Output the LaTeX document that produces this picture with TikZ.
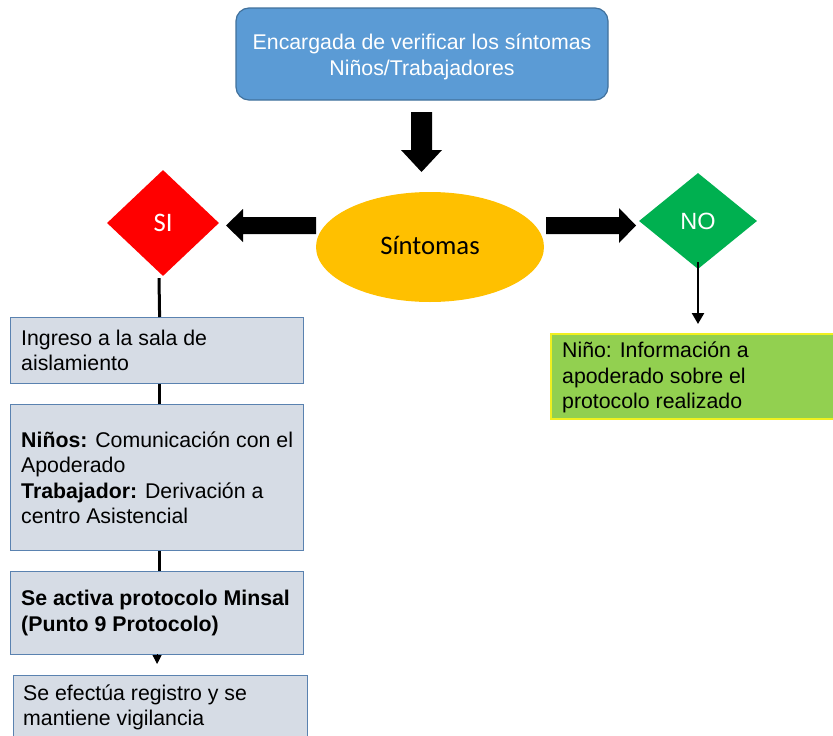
\documentclass[tikz,border=0pt]{standalone}
\usepackage{fontspec}
\setmainfont{Liberation Sans}
\newfontfamily\calibri{Carlito}
\usetikzlibrary{shapes.geometric,arrows.meta}
\definecolor{topblue}{HTML}{5B9BD5}
\definecolor{topborder}{HTML}{41719C}
\definecolor{ovalfill}{HTML}{FFC000}
\definecolor{sired}{HTML}{FF0000}
\definecolor{nogreen}{HTML}{00B050}
\definecolor{infogreen}{HTML}{92D050}
\definecolor{infoborder}{HTML}{F0F020}
\definecolor{grayfill}{HTML}{D6DCE5}
\definecolor{grayborder}{HTML}{5A82B0}
\begin{document}
\begin{tikzpicture}[x=1pt,y=-1pt,
  basefont/.style={font=\fontsize{21.3}{25.5}\selectfont},
  topbox/.style={draw=topborder, line width=1.2pt, fill=topblue, rounded corners=13pt,
    minimum width=372pt, minimum height=92pt},
  oval/.style={ellipse, fill=ovalfill, minimum width=228pt, minimum height=110pt, inner sep=0pt,
    font=\calibri\fontsize{26.7}{30}\selectfont},
  dia/.style={diamond, inner sep=0pt, text=white},
  graybox/.style={draw=grayborder, line width=1.2pt, fill=grayfill, anchor=north west, inner sep=0pt},
  greenbox/.style={draw=infoborder, line width=1.6pt, fill=infogreen, anchor=north west, inner sep=0pt},
  txt/.style={anchor=west, align=left, inner sep=0pt, basefont},
  conn/.style={line width=3pt, black},
  blockarrow/.style={fill=black}
]
\useasboundingbox (0,0) rectangle (833,736);

% nodes
\node[topbox] (top) at (422,54) {};
\node[align=center, text=white, inner sep=0pt, basefont] (topt) at ([yshift=-3pt]top.center)
  {Encargada de verificar los síntomas\\Niños/Trabajadores};
\node[oval] (sint) at (430,247) {\raisebox{3pt}{Síntomas}};
\node[dia, fill=sired, minimum width=112pt, minimum height=106pt,
      font=\calibri\fontsize{26.7}{30}\selectfont] (si) at (163,223) {SI};
\node[dia, fill=nogreen, minimum width=118pt, minimum height=96pt,
      font=\fontsize{23.5}{26}\selectfont] (no) at (698,221) {NO};

\node[greenbox, minimum width=300pt, minimum height=85pt] (info) at (550,333) {};
\node[txt] (infot) at ([xshift=12pt,yshift=-1.5pt]info.west)
  {Niño: Información a\\apoderado sobre el\\protocolo realizado};

\node[graybox, minimum width=293pt, minimum height=66pt] (b1) at (10,317) {};
\node[txt] (b1t) at ([xshift=11pt]b1.west) {Ingreso a la sala de\\aislamiento};

\node[graybox, minimum width=293pt, minimum height=146pt] (b2) at (10,404) {};
\node[txt] (b2t) at ([xshift=11pt]b2.west)
  {\textbf{Niños:} Comunicación con el\\Apoderado\\\textbf{Trabajador:} Derivación a\\centro Asistencial};

\node[graybox, minimum width=293pt, minimum height=83pt] (b3) at (10,571) {};
\node[txt, font=\bfseries\fontsize{21.3}{25.5}\selectfont] (b3t) at ([xshift=11pt]b3.west)
  {Se activa protocolo Minsal\\(Punto 9 Protocolo)};

\node[graybox, minimum width=294pt, minimum height=66pt] (b4) at (13,675) {};
\node[txt] (b4t) at ([xshift=10pt,yshift=1pt]b4.west) {Se efectúa registro y se\\mantiene vigilancia};

% block arrows
\fill[blockarrow] (411,112) -- (432,112) -- (432,150) -- (442,150) -- (421.5,172)
  -- (401,150) -- (411,150) -- cycle;
\fill[blockarrow] (316,217) -- (243,217) -- (243,209) -- (226,225.5) -- (243,242)
  -- (243,234) -- (316,234) -- cycle;
\fill[blockarrow] (546,217) -- (619,217) -- (619,208) -- (636,225.5) -- (619,243)
  -- (619,234) -- (546,234) -- cycle;

% connectors
\draw[conn] ([xshift=-4pt,yshift=-2pt]si.south) -- ([xshift=2.5pt]b1.north);
\draw[conn] ([xshift=2.5pt]b1.south) -- ([xshift=2.5pt]b2.north);
\draw[conn] ([xshift=2.5pt]b2.south) -- ([xshift=2.5pt]b3.north);
\coordinate (t4) at ([yshift=11pt]b4.north -| b3.south);
\draw[line width=1pt, -{Triangle[width=9pt,length=9pt]}] ([yshift=1pt]b3.south) -- (t4);
\coordinate (tinfo) at ([yshift=9pt]info.north -| no.south);
\draw[line width=2.4pt, -{Triangle[width=12pt,length=11pt]}] ([yshift=7pt]no.south) -- (tinfo);
\end{tikzpicture}
\end{document}
